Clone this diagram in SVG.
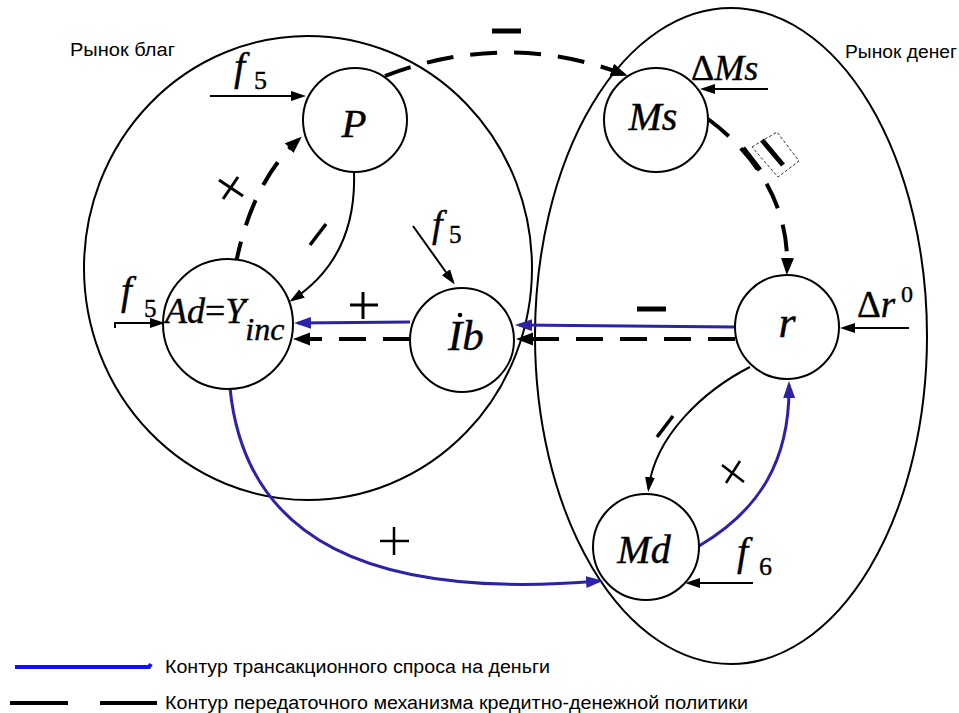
<svg xmlns="http://www.w3.org/2000/svg" width="959" height="713" viewBox="0 0 959 713">
<style>
.node{fill:#fff;stroke:#000;stroke-width:2}
.mkt{fill:none;stroke:#000;stroke-width:2}
.m{font-family:'Liberation Serif','DejaVu Serif',serif;font-style:italic;fill:#000;stroke:#000;stroke-width:0.4}
.d{font-family:'Liberation Serif','DejaVu Serif',serif;font-style:normal;fill:#000;stroke:#000;stroke-width:0.4}
.lbl{font-family:'Liberation Sans',Arial,sans-serif;font-size:18px;fill:#000}
.thin{fill:none;stroke:#000;stroke-width:2}
.dash{fill:none;stroke:#000;stroke-width:4;stroke-dasharray:27 17}
.blue{fill:none;stroke:#2b22a8;stroke-width:3}
.sign{stroke:#000;fill:none}
</style>
<defs>
<marker id="a" markerUnits="userSpaceOnUse" markerWidth="16" markerHeight="11" refX="12" refY="5" orient="auto"><path d="M0,0 L15,5 L0,10 z" fill="#000"/></marker>
<marker id="ad" markerUnits="userSpaceOnUse" markerWidth="18" markerHeight="14" refX="12" refY="6.5" orient="auto"><path d="M0,0 L17,6.5 L0,13 z" fill="#000"/></marker>
<marker id="ab" markerUnits="userSpaceOnUse" markerWidth="18" markerHeight="13" refX="13" refY="6" orient="auto"><path d="M0,0 L17,6 L0,12 z" fill="#2b22a8"/></marker>
</defs>
<rect width="959" height="713" fill="#fff"/>

<g id="market-goods">
<ellipse class="mkt" cx="308" cy="268" rx="224" ry="232"/>
<text class="lbl" x="70" y="56" textLength="105" lengthAdjust="spacingAndGlyphs">Рынок благ</text>
</g>
<g id="market-money">
<ellipse class="mkt" cx="731" cy="336" rx="196" ry="328"/>
<text class="lbl" x="845" y="58" textLength="112" lengthAdjust="spacingAndGlyphs">Рынок денег</text>
</g>

<g id="connectors">
<path class="dash" d="M385,76 Q505,30 623,74" marker-end="url(#ad)"/>
<path class="dash" d="M708,119 C750,150 790,200 787,270" marker-end="url(#ad)"/>
<path class="dash" d="M235,268 C245,215 265,170 298,140" marker-end="url(#ad)"/>
<path class="thin" d="M354,172 C356,230 335,272 292,300" marker-end="url(#a)"/>
<path class="blue" d="M410,322 L298,323" marker-end="url(#ab)"/>
<path class="dash" d="M410,339 L298,339" marker-end="url(#ad)"/>
<path class="blue" d="M735,327 L519,325" marker-end="url(#ab)"/>
<path class="dash" d="M735,339 L521,339" marker-end="url(#ad)"/>
<path class="thin" d="M750,367 C705,390 655,435 648.5,489" marker-end="url(#a)"/>
<path class="blue" d="M699,546 C760,510 790,460 789,385" marker-end="url(#ab)"/>
<path class="blue" d="M230,388 C245,540 370,600 599,581" marker-end="url(#ab)"/>
<path class="thin" d="M210,96 L303,96" marker-end="url(#a)"/>
<path class="thin" d="M413,226 L453,282" marker-end="url(#a)"/>
<path class="thin" d="M115,328 L115,323 L162,323" marker-end="url(#a)"/>
<path class="thin" d="M768,89 L703,89" marker-end="url(#a)"/>
<path class="thin" d="M909,328 L843,328" marker-end="url(#a)"/>
<path class="thin" d="M753,583 L688,583" marker-end="url(#a)"/>
<line class="sign" x1="492" y1="31" x2="521" y2="31" stroke-width="5"/>
<line class="sign" x1="762" y1="140" x2="783" y2="165" stroke-width="5"/>
<line class="sign" x1="743" y1="148" x2="760" y2="170" stroke-width="5"/>
<polygon points="752,147 777,132 799,161 778,177" fill="none" stroke="#333" stroke-width="1" stroke-dasharray="3 2"/>
<line x1="787" y1="287" x2="787" y2="295" stroke="#9ab4dc" stroke-width="1.5"/>
<line class="sign" x1="219" y1="180" x2="243" y2="196" stroke-width="3"/>
<line class="sign" x1="238" y1="177" x2="223" y2="199" stroke-width="3"/>
<line class="sign" x1="310" y1="245" x2="326" y2="224" stroke-width="3.5"/>
<line class="sign" x1="350" y1="305" x2="378" y2="305" stroke-width="3"/>
<line class="sign" x1="363" y1="292" x2="363" y2="319" stroke-width="3"/>
<line class="sign" x1="637" y1="309" x2="666" y2="309" stroke-width="5"/>
<line class="sign" x1="657" y1="437" x2="673" y2="416" stroke-width="3.5"/>
<line class="sign" x1="722" y1="465" x2="744" y2="482" stroke-width="2.5"/>
<line class="sign" x1="740" y1="461" x2="726" y2="483" stroke-width="2.5"/>
<line class="sign" x1="380" y1="541" x2="409" y2="541" stroke-width="2.5"/>
<line class="sign" x1="394" y1="527" x2="394" y2="555" stroke-width="2.5"/>
</g>

<g id="node-P">
<circle class="node" cx="355" cy="120" r="52"/>
<text class="m" x="354" y="137" font-size="41" text-anchor="middle">P</text>
</g>
<g id="node-Ms">
<circle class="node" cx="656" cy="120" r="52"/>
<text class="m" x="653" y="130" font-size="40" text-anchor="middle">Ms</text>
</g>
<g id="node-Ad">
<circle class="node" cx="228" cy="324" r="65"/>
<text class="m" x="165" y="323" font-size="36">Ad<tspan class="d">=</tspan>Y<tspan font-size="32" y="340">inc</tspan></text>
<circle cx="245" cy="301" r="2" fill="#000"/>
</g>
<g id="node-Ib">
<circle class="node" cx="462" cy="340" r="52"/>
<text class="m" x="448" y="350" font-size="43">Ib</text>
<circle cx="460" cy="315" r="2.3" fill="#000"/>
</g>
<g id="node-r">
<circle class="node" cx="787" cy="327" r="52"/>
<text class="m" x="787" y="337" font-size="44" text-anchor="middle">r</text>
</g>
<g id="node-Md">
<circle class="node" cx="646" cy="547" r="53"/>
<text class="m" x="644" y="563" font-size="40" text-anchor="middle">Md</text>
</g>

<g id="input-labels">
<text class="m" x="234" y="80" font-size="40">f<tspan class="d" x="254" y="89" font-size="26">5</tspan></text>
<text class="m" x="432" y="237" font-size="38">f<tspan class="d" x="449" y="243" font-size="25">5</tspan></text>
<text class="m" x="121" y="304" font-size="39">f<tspan class="d" x="144" y="317" font-size="25">5</tspan></text>
<text class="m" x="737" y="565" font-size="40">f<tspan class="d" x="759" y="575" font-size="26">6</tspan></text>
<text class="d" x="691" y="80" font-size="36">Δ<tspan class="m">Ms</tspan></text>
<text class="d" x="857" y="317" font-size="37">Δ<tspan class="m">r</tspan><tspan x="901" y="302" font-size="24">0</tspan></text>
</g>

<g id="legend">
<path d="M15,667 L149,667 L151,664" fill="none" stroke="#1010f0" stroke-width="4"/>
<text class="lbl" x="165" y="673" textLength="385" lengthAdjust="spacingAndGlyphs">Контур трансакционного спроса на деньги</text>
<line x1="10" y1="703" x2="68" y2="703" stroke="#000" stroke-width="4"/>
<line x1="100" y1="703" x2="157" y2="703" stroke="#000" stroke-width="4"/>
<text class="lbl" x="165" y="709" textLength="583" lengthAdjust="spacingAndGlyphs">Контур передаточного механизма кредитно-денежной политики</text>
</g>
</svg>
